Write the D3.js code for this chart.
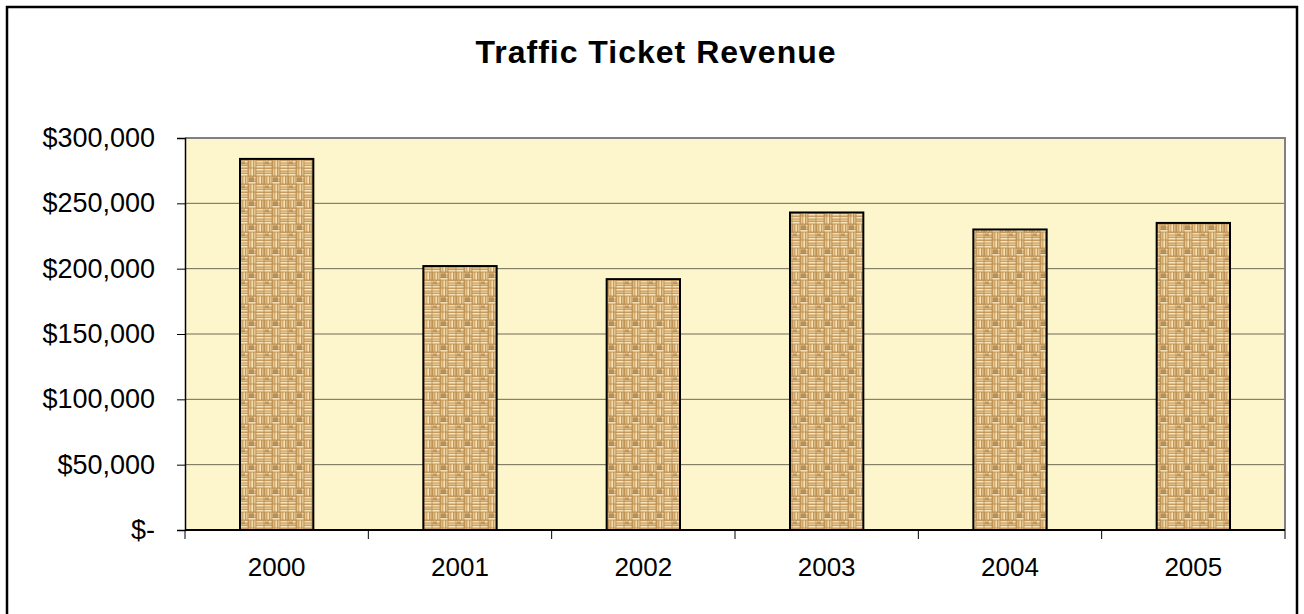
<!DOCTYPE html>
<html>
<head>
<meta charset="utf-8">
<script src="https://cdn.jsdelivr.net/npm/d3@7"></script>
<style>
  html, body { margin: 0; padding: 0; background: #ffffff; }
  svg { display: block; font-family: "Liberation Sans", Arial, sans-serif; }
</style>
</head>
<body>
<svg id="chart" width="1304" height="614"></svg>
<script>
// Annual traffic ticket revenue
const years = ["2000", "2001", "2002", "2003", "2004", "2005"];
const revenue = [284000, 202000, 192000, 243000, 230000, 235000];
const yTicks = [0, 50000, 100000, 150000, 200000, 250000, 300000];

const W = 1304, H = 614;
const margin = { top: 138, right: 19, bottom: 84, left: 185 };
const svg = d3.select("#chart");

// Woven burlap texture for the bars
const defs = svg.append("defs");
const T = 24;
const pat = defs.append("pattern")
  .attr("id", "weave")
  .attr("patternUnits", "userSpaceOnUse")
  .attr("width", T).attr("height", T);
pat.append("rect").attr("width", T).attr("height", T).attr("fill", "#b98a4c");
// basket weave: 3x3 grid of 8px blocks, strands alternate direction
const light = ["#f2dcae", "#e6c68d", "#f6e4bc", "#dcb87c"];
for (let r = 0; r < 3; r++) {
  for (let c = 0; c < 3; c++) {
    const bx = c * 8, by = r * 8;
    const horiz = (r + c) % 2 === 0;
    for (let i = 0; i < 3; i++) {
      const off = 0.8 + i * 2.5;
      const col = light[(r * 3 + c + i) % light.length];
      if (horiz) {
        pat.append("rect").attr("x", bx + 0.4).attr("y", by + off).attr("width", 7.2).attr("height", 1.8).attr("fill", col);
      } else {
        pat.append("rect").attr("x", bx + off).attr("y", by + 0.4).attr("width", 1.8).attr("height", 7.2).attr("fill", col);
      }
    }
  }
}
// darker mottling in the weave
pat.append("rect").attr("x", 9).attr("y", 9).attr("width", 5).attr("height", 5).attr("fill", "#8a5f2a").attr("opacity", 0.45);
pat.append("rect").attr("x", 1).attr("y", 17).attr("width", 4).attr("height", 3).attr("fill", "#8a5f2a").attr("opacity", 0.35);

// Outer frame
svg.append("rect")
  .attr("x", 7).attr("y", 7).attr("width", 1290).attr("height", 640)
  .attr("fill", "none").attr("stroke", "#000").attr("stroke-width", 2.5);

const x = d3.scaleBand()
  .domain(years)
  .range([margin.left, W - margin.right])
  .paddingInner(0.6).paddingOuter(0.3);

const y = d3.scaleLinear()
  .domain([0, 300000])
  .range([H - margin.bottom, margin.top]);

// Plot area background
svg.append("rect")
  .attr("x", margin.left).attr("y", margin.top)
  .attr("width", W - margin.right - margin.left)
  .attr("height", H - margin.bottom - margin.top)
  .attr("fill", "#fdf6cc");

// Horizontal gridlines
svg.append("g")
  .selectAll("line")
  .data(yTicks.filter(d => d > 0 && d < 300000))
  .join("line")
  .attr("x1", margin.left).attr("x2", W - margin.right)
  .attr("y1", d => y(d)).attr("y2", d => y(d))
  .attr("stroke", "#6e6a55").attr("stroke-width", 1);

// Plot area top and right edges
svg.append("path")
  .attr("d", `M${margin.left},${margin.top}H${W - margin.right}V${H - margin.bottom}`)
  .attr("fill", "none").attr("stroke", "#808080").attr("stroke-width", 2);

// Bars
svg.append("g")
  .selectAll("rect")
  .data(years.map((yr, i) => ({ yr, v: revenue[i] })))
  .join("rect")
  .attr("x", d => x(d.yr))
  .attr("y", d => y(d.v))
  .attr("width", x.bandwidth())
  .attr("height", d => y(0) - y(d.v))
  .attr("fill", "url(#weave)")
  .attr("stroke", "#000").attr("stroke-width", 2);

// Y axis
const fmt = d => d === 0 ? "$-" : "$" + d3.format(",")(d);
const yAxis = svg.append("g")
  .attr("transform", `translate(${margin.left},0)`)
  .call(d3.axisLeft(y).tickValues(yTicks).tickFormat(fmt).tickSize(8).tickPadding(22));
yAxis.select(".domain").attr("stroke", "#000").attr("stroke-width", 1.5);
yAxis.selectAll(".tick line").attr("stroke", "#000").attr("stroke-width", 1);
yAxis.selectAll(".tick text")
  .attr("font-size", 27).attr("fill", "#000")
  .attr("font-family", "'Liberation Sans', Arial, sans-serif");

// X axis: ticks at category boundaries
const xAxisG = svg.append("g")
  .attr("transform", `translate(0,${H - margin.bottom})`);
xAxisG.append("line")
  .attr("x1", margin.left).attr("x2", W - margin.right)
  .attr("stroke", "#000").attr("stroke-width", 2);
const bounds = d3.range(years.length + 1).map(i => margin.left + i * (W - margin.right - margin.left) / years.length);
xAxisG.selectAll("line.tk")
  .data(bounds)
  .join("line").attr("class", "tk")
  .attr("x1", d => d).attr("x2", d => d)
  .attr("y1", 0).attr("y2", 9)
  .attr("stroke", "#000").attr("stroke-width", 1);
xAxisG.selectAll("text")
  .data(years)
  .join("text")
  .attr("x", d => x(d) + x.bandwidth() / 2)
  .attr("y", 46)
  .attr("text-anchor", "middle")
  .attr("font-size", 26)
  .attr("fill", "#000")
  .text(d => d);

// Title
svg.append("text")
  .attr("x", 656).attr("y", 63)
  .attr("text-anchor", "middle")
  .attr("font-size", 32).attr("font-weight", "bold")
  .attr("letter-spacing", 1)
  .attr("fill", "#000")
  .text("Traffic Ticket Revenue");
</script>
</body>
</html>
